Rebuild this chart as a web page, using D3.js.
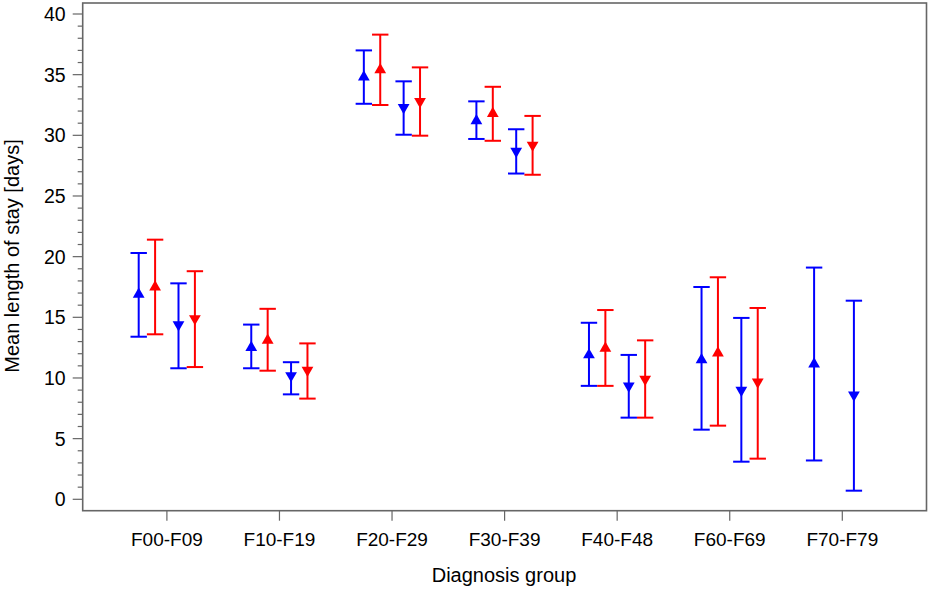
<!DOCTYPE html>
<html><head><meta charset="utf-8">
<script src="https://cdn.jsdelivr.net/npm/d3@7"></script>
<style>body{margin:0;background:#fff}svg{display:block;font-family:"Liberation Sans",Arial,sans-serif}</style>
</head><body><svg id="c" width="930" height="589"></svg>
<script>
const categories = ["F00-F09","F10-F19","F20-F29","F30-F39","F40-F48","F60-F69","F70-F79"];
// series: blue up, red up, blue down, red down  (mean, lower, upper)
const blueUpMean  = [16.9,12.5,34.8,31.2,11.9,11.5,11.15];
const blueUpLow   = [13.4,10.8,32.6,29.7,9.35,5.74,3.2];
const blueUpHigh  = [20.3,14.4,37.0,32.8,14.55,17.5,19.1];
const redUpMean   = [17.5,13.1,35.4,31.8,12.45,12.05,null];
const redUpLow    = [13.6,10.6,32.5,29.55,9.35,6.07,null];
const redUpHigh   = [21.4,15.7,38.3,34.0,15.6,18.3,null];
const blueDnMean  = [14.4,10.2,32.3,28.7,9.35,9.0,8.6];
const blueDnLow   = [10.8,8.65,30.05,26.85,6.73,3.1,0.71];
const blueDnHigh  = [17.8,11.3,34.45,30.5,11.9,14.95,16.37];
const redDnMean   = [14.9,10.65,32.8,29.2,9.9,9.67,null];
const redDnLow    = [10.9,8.3,29.97,26.75,6.73,3.35,null];
const redDnHigh   = [18.8,12.85,35.6,31.6,13.1,15.77,null];
const yTicks = [0,5,10,15,20,25,30,35,40];

const series = [
  {color:"#0000ff", dir:"up",   off:-28.2, mean:blueUpMean, low:blueUpLow, high:blueUpHigh},
  {color:"#ff0000", dir:"up",   off:-11.8, mean:redUpMean,  low:redUpLow,  high:redUpHigh},
  {color:"#0000ff", dir:"down", off:11.6,  mean:blueDnMean, low:blueDnLow, high:blueDnHigh},
  {color:"#ff0000", dir:"down", off:28.0,  mean:redDnMean,  low:redDnLow,  high:redDnHigh}
];

const L=82.7, R=926.5, T=3, B=510.7;
const svg = d3.select("#c");
const x = d3.scalePoint().domain(categories).range([L,R]).padding(0.748);
const y = d3.scaleLinear().domain([0,40]).range([499.3,14]);

// frame
svg.append("rect").attr("x",L).attr("y",T).attr("width",R-L).attr("height",B-T)
  .attr("fill","none").attr("stroke","#666").attr("stroke-width",1.6);

// y axis ticks
const minor = d3.range(0,41,1).filter(v=>v%5!==0);
svg.selectAll(".ymin").data(minor).join("line")
  .attr("x1",L-5).attr("x2",L).attr("y1",d=>y(d)).attr("y2",d=>y(d))
  .attr("stroke","#666").attr("stroke-width",1.2);
svg.selectAll(".ymaj").data(yTicks).join("line")
  .attr("x1",L-10).attr("x2",L).attr("y1",d=>y(d)).attr("y2",d=>y(d))
  .attr("stroke","#666").attr("stroke-width",1.2);
svg.selectAll(".ylab").data(yTicks).join("text")
  .attr("x",L-17).attr("y",d=>y(d)).attr("dy","0.36em").attr("text-anchor","end")
  .attr("font-size",19.5).attr("fill","#000").text(d=>d);

// x axis ticks
svg.selectAll(".xt").data(categories).join("line")
  .attr("x1",d=>x(d)).attr("x2",d=>x(d)).attr("y1",B).attr("y2",B+10)
  .attr("stroke","#666").attr("stroke-width",1.2);
svg.selectAll(".xl").data(categories).join("text")
  .attr("x",d=>x(d)).attr("y",546).attr("text-anchor","middle")
  .attr("font-size",19).attr("fill","#000").text(d=>d);

svg.append("text").attr("x",504).attr("y",582).attr("text-anchor","middle")
  .attr("font-size",20).text("Diagnosis group");
svg.append("text").attr("transform","translate(19,256) rotate(-90)").attr("text-anchor","middle")
  .attr("font-size",20).text("Mean length of stay [days]");

// error bars
const cw=8.2;
series.forEach(s=>{
  const pts = categories.map((c,i)=>({c, m:s.mean[i], lo:s.low[i], hi:s.high[i]})).filter(d=>d.m!=null);
  const g = svg.append("g").attr("stroke",s.color).attr("fill",s.color);
  g.selectAll(".v").data(pts).join("line")
    .attr("x1",d=>x(d.c)+s.off).attr("x2",d=>x(d.c)+s.off)
    .attr("y1",d=>y(d.lo)).attr("y2",d=>y(d.hi)).attr("stroke-width",2);
  g.selectAll(".ch").data(pts).join("line")
    .attr("x1",d=>x(d.c)+s.off-cw).attr("x2",d=>x(d.c)+s.off+cw)
    .attr("y1",d=>y(d.hi)).attr("y2",d=>y(d.hi)).attr("stroke-width",2);
  g.selectAll(".cl").data(pts).join("line")
    .attr("x1",d=>x(d.c)+s.off-cw).attr("x2",d=>x(d.c)+s.off+cw)
    .attr("y1",d=>y(d.lo)).attr("y2",d=>y(d.lo)).attr("stroke-width",2);
  const tri = d3.symbol().type(d3.symbolTriangle).size(60);
  g.selectAll(".m").data(pts).join("path")
    .attr("d",tri).attr("stroke","none")
    .attr("transform",d=>`translate(${x(d.c)+s.off},${y(d.m)}) rotate(${s.dir==="up"?0:180})`);
});
</script></body></html>
